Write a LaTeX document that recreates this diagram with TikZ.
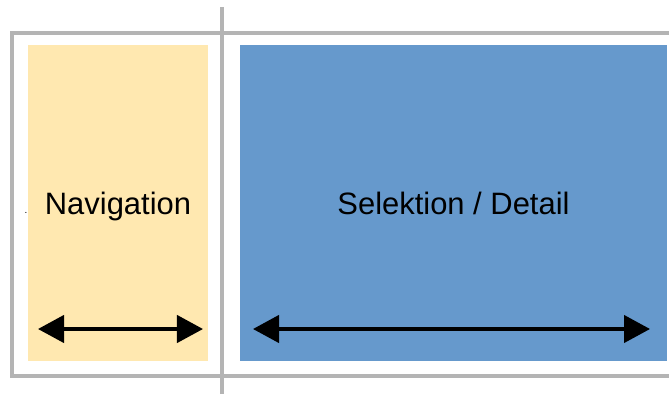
\documentclass[tikz,border=0pt]{standalone}
\usepackage{fontspec}
\setmainfont{Liberation Sans}
\usepackage{tikz}
\usetikzlibrary{arrows.meta, positioning}

\definecolor{frameGray}{HTML}{B4B4B4}
\definecolor{navYellow}{HTML}{FFE8B0}
\definecolor{selBlue}{HTML}{6699CC}

\begin{document}
\begin{tikzpicture}[
    x=0.025cm, y=-0.025cm,
    panel/.style={rectangle, inner sep=0pt, text height=17pt, text depth=0pt,
        font=\fontsize{22}{26}\selectfont},
    navbox/.style={panel, fill=navYellow, minimum width=4.5cm, minimum height=7.9cm},
    selbox/.style={panel, fill=selBlue, minimum width=10.675cm, minimum height=7.9cm},
    frame/.style={draw=frameGray, line width=2.5pt},
    span/.style={{Triangle[length=0.65cm, width=0.68cm]}-{Triangle[length=0.65cm, width=0.68cm]}, line width=2.6pt}]
        \useasboundingbox (0,0) rectangle (669,394);

        % frame and divider
        \draw[frame] (669,33) -- (12,33) -- (12,376) -- (669,376);
        \draw[frame] (222,7) -- (222,394);

        \node[navbox] (nav) at (118,203) {Navigation};
        \node[selbox] (sel) at (453.5,203) {Selektion / Detail};

        \node[font=\scriptsize, inner sep=0pt] (dot) at (26,213) {.};

        \coordinate (nav_l) at (38,329);
        \coordinate (nav_r) at (203,329);
        \coordinate (sel_l) at (253,329);
        \coordinate (sel_r) at (650,329);

        \draw[span] (nav_l) -- (nav_r);
        \draw[span] (sel_l) -- (sel_r);

\end{tikzpicture}
\end{document}
